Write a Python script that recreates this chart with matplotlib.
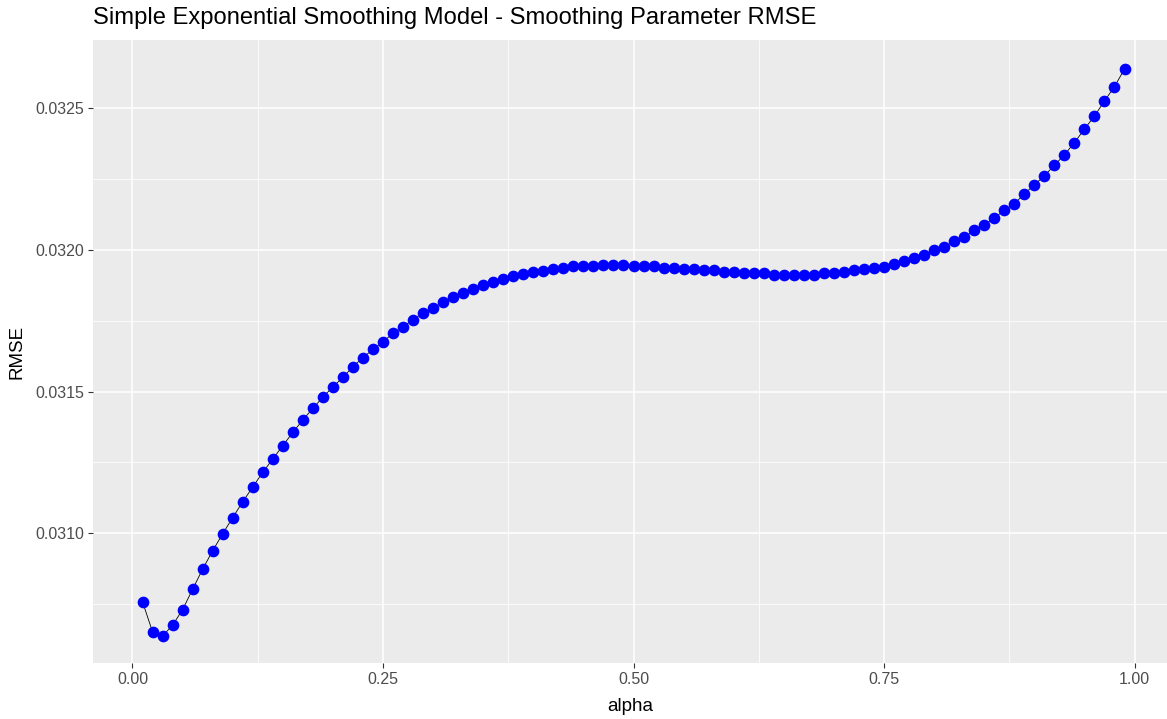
import matplotlib
matplotlib.use("Agg")
import matplotlib.pyplot as plt
from matplotlib.ticker import FixedLocator

alpha = [round(0.01 * i, 2) for i in range(1, 100)]
rmse = [
    0.030758, 0.030652, 0.030637, 0.030675, 0.030730, 0.030802, 0.030873, 0.030938, 0.030998, 0.031055,
    0.031111, 0.031163, 0.031215, 0.031262, 0.031309, 0.031356, 0.031400, 0.031441, 0.031480, 0.031517,
    0.031550, 0.031588, 0.031620, 0.031649, 0.031676, 0.031706, 0.031729, 0.031754, 0.031778, 0.031796,
    0.031815, 0.031833, 0.031848, 0.031861, 0.031877, 0.031886, 0.031899, 0.031909, 0.031914, 0.031922,
    0.031927, 0.031933, 0.031936, 0.031942, 0.031942, 0.031944, 0.031947, 0.031947, 0.031947, 0.031944,
    0.031944, 0.031942, 0.031938, 0.031936, 0.031932, 0.031933, 0.031929, 0.031928, 0.031922, 0.031921,
    0.031919, 0.031919, 0.031919, 0.031913, 0.031913, 0.031913, 0.031913, 0.031913, 0.031918, 0.031918,
    0.031923, 0.031928, 0.031933, 0.031938, 0.031941, 0.031951, 0.031961, 0.031971, 0.031983, 0.031999,
    0.032012, 0.032031, 0.032045, 0.032070, 0.032088, 0.032113, 0.032140, 0.032163, 0.032198, 0.032230,
    0.032262, 0.032299, 0.032336, 0.032379, 0.032427, 0.032473, 0.032526, 0.032577, 0.032639,
]

x_ticks = [0.00, 0.25, 0.50, 0.75, 1.00]
x_tick_labels = ["0.00", "0.25", "0.50", "0.75", "1.00"]
y_ticks = [0.0310, 0.0315, 0.0320, 0.0325]
y_tick_labels = ["0.0310", "0.0315", "0.0320", "0.0325"]
x_minor = [0.125, 0.375, 0.625, 0.875]
y_minor = [0.03075, 0.03125, 0.03175, 0.03225]

title = "Simple Exponential Smoothing Model - Smoothing Parameter RMSE"

plt.rcParams['font.family'] = ['Liberation Sans', 'DejaVu Sans']

W, H = 1167, 719
fig = plt.figure(figsize=(W / 100, H / 100), dpi=100)
left, right, top, bottom = 93, 1167, 40, 663
ax = fig.add_axes([left / W, 1 - bottom / H, (right - left) / W, (bottom - top) / H])
ax.set_facecolor("#EBEBEB")

ax.set_xlim(-0.0394, 1.0324)
ax.set_ylim(0.0305417, 0.0327415)

ax.xaxis.set_major_locator(FixedLocator(x_ticks))
ax.yaxis.set_major_locator(FixedLocator(y_ticks))
ax.xaxis.set_minor_locator(FixedLocator(x_minor))
ax.yaxis.set_minor_locator(FixedLocator(y_minor))
ax.set_xticklabels(x_tick_labels)
ax.set_yticklabels(y_tick_labels)

ax.grid(which="major", color="white", linewidth=1.1)
ax.grid(which="minor", color="white", linewidth=0.55)
ax.set_axisbelow(True)
for s in ax.spines.values():
    s.set_visible(False)

ax.tick_params(which="major", length=3.5, width=0.8, color="#333333",
               labelcolor="#4D4D4D", labelsize=11.5, pad=3)
ax.tick_params(which="minor", length=0)

ax.plot(alpha, rmse, color="black", linewidth=0.6, zorder=2)
ax.plot(alpha, rmse, linestyle="none", marker="o", markersize=7.4,
        markerfacecolor="blue", markeredgecolor="blue", zorder=3)

ax.set_xlabel("alpha", fontsize=13.5, color="black", labelpad=8)
ax.set_ylabel("RMSE", fontsize=13.5, color="black", labelpad=7)
fig.text(left / W, 1 - 18 / H, title, fontsize=17.1, color="black",
         ha="left", va="center")

fig.savefig("out.png", dpi=100)
